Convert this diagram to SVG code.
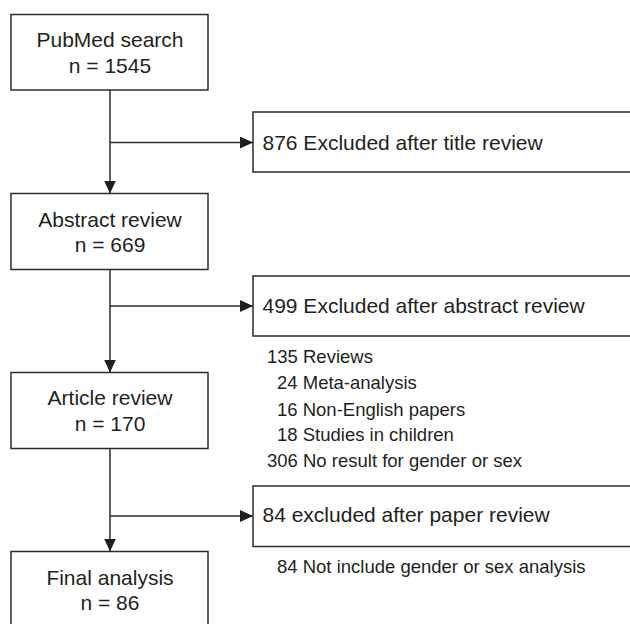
<svg xmlns="http://www.w3.org/2000/svg" width="630" height="624" viewBox="0 0 630 624">
  <defs>
    <style>
      .box { fill: #ffffff; stroke: #2b2b2b; stroke-width: 1.5; }
      .conn { fill: none; stroke: #2b2b2b; stroke-width: 1.5; }
      .t { font-family: "Liberation Sans", Arial, Helvetica, sans-serif; font-size: 21px; fill: #231f20; }
      .tc { text-anchor: middle; }
      .s { font-family: "Liberation Sans", Arial, Helvetica, sans-serif; font-size: 18.5px; fill: #231f20; }
    </style>
    <marker id="arrow" viewBox="0 0 13 12" refX="13" refY="6" markerWidth="13" markerHeight="12" markerUnits="userSpaceOnUse" orient="auto">
      <path d="M0,0 L13,6 L0,12 Z" fill="#1e1e1e"/>
    </marker>
  </defs>
  <rect width="630" height="624" fill="#ffffff"/>

  <g id="connectors">
    <line class="conn" x1="110" y1="90" x2="110" y2="193.5" marker-end="url(#arrow)"/>
    <line class="conn" x1="110" y1="142.5" x2="253" y2="142.5" marker-end="url(#arrow)"/>
    <line class="conn" x1="110" y1="269.5" x2="110" y2="372.5" marker-end="url(#arrow)"/>
    <line class="conn" x1="110" y1="306" x2="253" y2="306" marker-end="url(#arrow)"/>
    <line class="conn" x1="110" y1="448.5" x2="110" y2="551.5" marker-end="url(#arrow)"/>
    <line class="conn" x1="110" y1="516" x2="253" y2="516" marker-end="url(#arrow)"/>
  </g>

  <g id="pubmed">
    <rect class="box" x="11" y="14.5" width="197" height="75.5"/>
    <text class="t tc" x="110" y="46.7">PubMed search</text>
    <text class="t tc" x="110" y="72.7">n = 1545</text>
  </g>

  <g id="excluded-title">
    <rect class="box" x="253" y="112" width="400" height="60"/>
    <text class="t" x="262.5" y="150">876 Excluded after title review</text>
  </g>

  <g id="abstract">
    <rect class="box" x="11" y="193.5" width="197" height="76"/>
    <text class="t tc" x="110" y="226.7">Abstract review</text>
    <text class="t tc" x="110" y="252.3">n = 669</text>
  </g>

  <g id="excluded-abstract">
    <rect class="box" x="253" y="276" width="400" height="60"/>
    <text class="t" x="262.5" y="313.3">499 Excluded after abstract review</text>
  </g>

  <g id="abstract-reasons">
    <text class="s" x="267" y="363.3">135 Reviews</text>
    <text class="s" x="277" y="389.3">24 Meta-analysis</text>
    <text class="s" x="277" y="415.7">16 Non-English papers</text>
    <text class="s" x="277" y="440.7">18 Studies in children</text>
    <text class="s" x="267" y="466.7">306 No result for gender or sex</text>
  </g>

  <g id="article">
    <rect class="box" x="11" y="372.5" width="197" height="76"/>
    <text class="t tc" x="110" y="405">Article review</text>
    <text class="t tc" x="110" y="431">n = 170</text>
  </g>

  <g id="excluded-paper">
    <rect class="box" x="253" y="486" width="400" height="60.5"/>
    <text class="t" x="262.5" y="521.7">84 excluded after paper review</text>
  </g>

  <g id="paper-reasons">
    <text class="s" x="277" y="573.3">84 Not include gender or sex analysis</text>
  </g>

  <g id="final">
    <rect class="box" x="11" y="551.5" width="197" height="80"/>
    <text class="t tc" x="110" y="585">Final analysis</text>
    <text class="t tc" x="110" y="610">n = 86</text>
  </g>
</svg>
